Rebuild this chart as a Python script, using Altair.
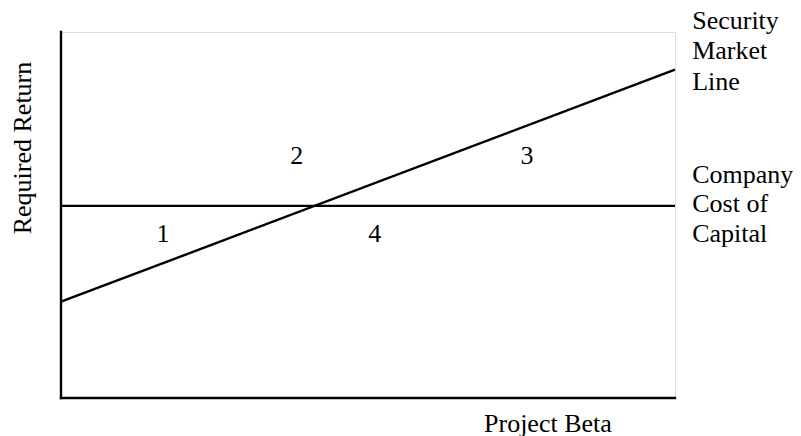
import altair as alt
import pandas as pd

# ---- data ----
series = ["Security Market Line", "Security Market Line", "Company Cost of Capital", "Company Cost of Capital"]
beta = [0.0, 10.0, 0.0, 10.0]
ret = [2.63, 8.97, 5.25, 5.25]

region_labels = ["1", "2", "3", "4"]
region_x = [1.66, 3.84, 7.59, 5.11]
region_y = [4.26, 6.39, 6.39, 4.26]

side_lines = ["Security", "Market", "Line", "Company", "Cost of", "Capital"]
side_y = [10.08, 9.26, 8.42, 5.87, 5.08, 4.26]
side_x = [10.28] * 6

FONT = "Liberation Serif"
FS = 26

lines_df = pd.DataFrame({"series": series, "beta": beta, "ret": ret})
axes_df = pd.DataFrame({"x": [0.0, 0.0], "x2": [0.0, 10.0], "y": [0.0, 0.0], "y2": [10.0, 0.0]})
region_df = pd.DataFrame({"label": region_labels, "x": region_x, "y": region_y})
side_df = pd.DataFrame({"label": side_lines, "x": side_x, "y": side_y})
xtitle_df = pd.DataFrame({"label": ["Project Beta"], "x": [7.93], "y": [-0.93]})
ytitle_df = pd.DataFrame({"label": ["Required Return"], "x": [-0.489], "y": [6.83]})

xs = alt.Scale(domain=[0, 10], nice=False, zero=False)
ys = alt.Scale(domain=[0, 10], nice=False, zero=False)

lines = alt.Chart(lines_df).mark_line(color="black", strokeWidth=2.4).encode(
    x=alt.X("beta:Q", scale=xs, axis=None),
    y=alt.Y("ret:Q", scale=ys, axis=None),
    detail="series:N",
)

axes = alt.Chart(axes_df).mark_rule(color="black", strokeWidth=2.4, strokeCap="square").encode(
    x=alt.X("x:Q", scale=xs, axis=None),
    x2="x2:Q",
    y=alt.Y("y:Q", scale=ys, axis=None),
    y2="y2:Q",
)

def texts(df, **kw):
    return alt.Chart(df).mark_text(font=FONT, fontSize=FS, color="black", baseline="alphabetic", **kw).encode(
        x=alt.X("x:Q", scale=xs, axis=None),
        y=alt.Y("y:Q", scale=ys, axis=None),
        text="label:N",
    )

regions = texts(region_df, align="center")
side = texts(side_df, align="left")
xtitle = texts(xtitle_df, align="center")
ytitle = texts(ytitle_df, align="center", angle=270)

chart = alt.layer(axes, lines, regions, side, xtitle, ytitle).properties(
    width=614,
    height=366,
    autosize=alt.AutoSizeParams(type="none"),
    padding={"left": 53, "top": 24, "right": 118, "bottom": 38},
).configure_view(stroke=None).configure(background="white")

chart.save("out.html", embed_options={"renderer": "svg", "actions": False})
